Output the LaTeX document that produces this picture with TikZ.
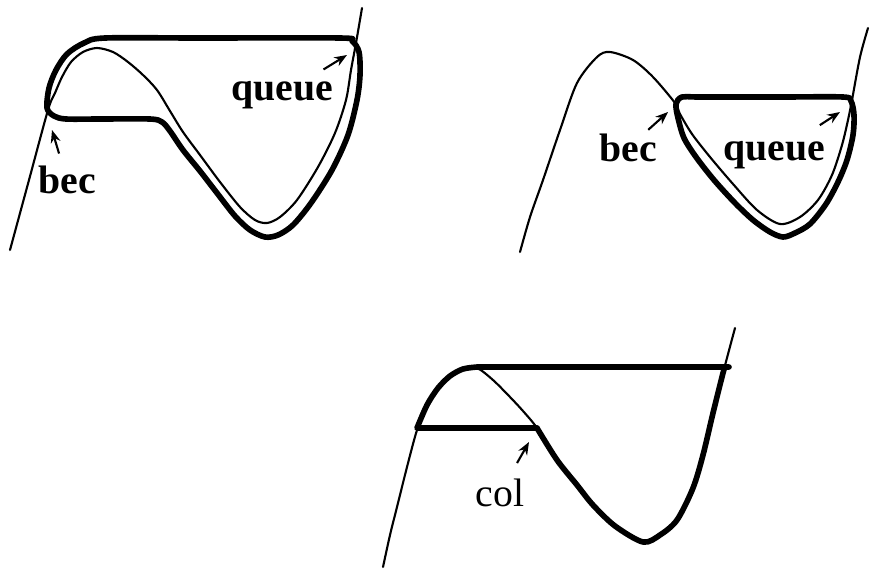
\documentclass[tikz,border=0pt]{standalone}
\usepackage{fontspec}
\setmainfont{Liberation Serif}
\usepackage{tikz}
\usetikzlibrary{arrows.meta}
\tikzset{
    thincurve/.style={line width=0.6pt, line cap=round},
    rim/.style={line width=1.6pt, line join=round, line cap=round},
    tag/.style={font=\fontsize{11.3}{13}\selectfont, inner sep=0pt},
    pointer/.style={-{Stealth[length=3.6pt, width=2.8pt]}, line width=0.6pt}
}

\begin{document}
\begin{tikzpicture}[x=0.01cm, y=-0.01cm]
    \useasboundingbox (0,0) rectangle (870,569);

    % top left
    \draw[thincurve] plot[smooth] coordinates {(10,250) (29,180) (48,110) (55,93) (62,77) (71,62) (83,52) (97,48) (113,52) (128,62) (143,75) (157,90) (170,111) (183,132) (200,155) (220,182) (240,207) (255,220) (267,223) (280,217) (297,200) (318,167) (335,133) (346,100) (351,70) (356,43) (362,8)};
    \draw[rim] plot[smooth cycle, tension=0.5] coordinates {(47,108) (49,88) (56,70) (67,54) (84,43) (105,38) (200,38) (340,38) (352,41) (359,52) (360,75) (357,100) (348,135) (332,170) (311,203) (293,225) (278,235) (265,237) (250,230) (235,216) (217,193) (200,171) (183,150) (170,131) (162,122) (150,119) (100,119) (66,119) (54,116)};
    \node[tag] (bec1) at (67,180) {\bfseries bec};
    \node[tag] (queue1) at (282,95) {\bfseries queue};
    \coordinate (bec1 tip) at (52,130);
    \coordinate (queue1 tip) at (347,55);
    \draw[pointer, shorten <=3.5pt] (bec1) -- (bec1 tip);
    \draw[pointer, shorten <=6pt] (queue1) -- (queue1 tip);

    % top right
    \draw[thincurve] plot[smooth] coordinates {(520,252) (530,217) (543,180) (560,130) (577,83) (597,57) (610,52) (633,60) (653,77) (675,103) (680,114) (692,134) (710,157) (733,184) (757,210) (780,224) (800,217) (818,200) (832,175) (842,145) (848,120) (852,100) (860,57) (868,28)};
    \draw[rim] plot[smooth cycle, tension=0.5] coordinates {(676,104) (682,97) (700,97) (780,97) (843,97) (851,101) (854,115) (853,135) (847,160) (838,182) (826,204) (810,224) (795,233) (783,237) (770,232) (753,220) (735,203) (714,180) (696,157) (684,138) (678,118)};
    \node[tag] (bec2) at (628,148) {\bfseries bec};
    \node[tag] (queue2) at (774,155) {\bfseries queue};
    \coordinate (bec2 tip) at (668,112);
    \coordinate (queue2 tip) at (840,112);
    \draw[pointer, shorten <=1.5pt] (bec2) -- (bec2 tip);
    \draw[pointer, shorten <=8pt] (queue2) -- (queue2 tip);

    % bottom
    \draw[thincurve] plot[smooth] coordinates {(383,567) (390,535) (397,507) (407,467) (417,430) (427,405) (438,388) (450,376) (463,369) (477,368) (493,380) (510,397) (523,411) (537,428) (557,460) (577,485) (593,505) (615,526) (643,542) (660,535) (677,520) (693,488) (703,455) (713,413) (723,373) (735,328)};
    \draw[rim] (537,428) -- (417,428) -- plot[smooth] coordinates {(417,428) (427,405) (438,388) (450,376) (463,369) (477,367)} -- (729,367);
    \draw[rim] plot[smooth] coordinates {(537,428) (557,460) (577,485) (593,505) (615,526) (643,542) (660,535) (677,520) (693,488) (703,455) (713,413) (723,373) (725,367)};
    \node[tag] (col) at (500,493) {col};
    \coordinate (col tip) at (529,442);
    \draw[pointer, shorten <=5pt] (col) -- (col tip);
\end{tikzpicture}
\end{document}
